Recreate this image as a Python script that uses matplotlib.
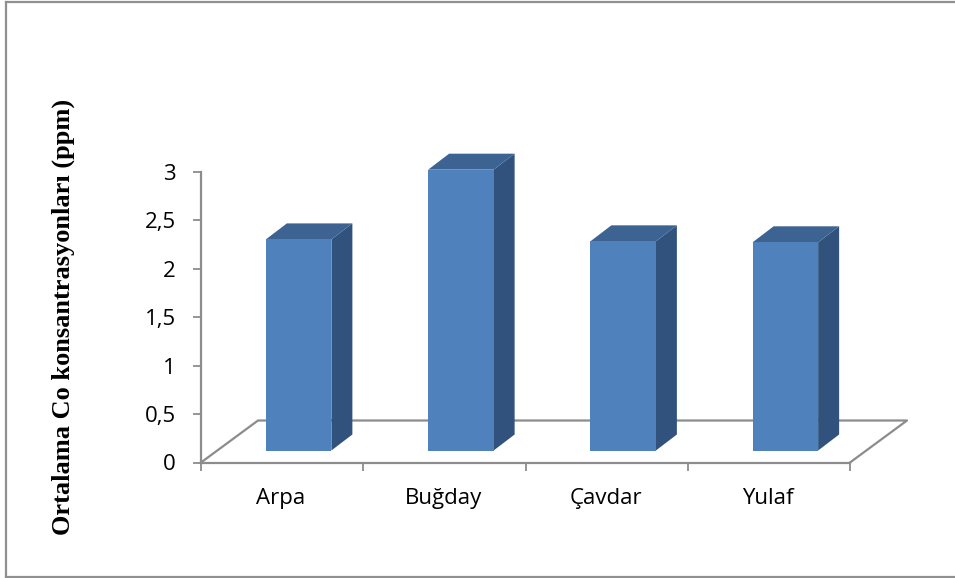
import matplotlib
matplotlib.use("Agg")
import matplotlib.pyplot as plt
from matplotlib.lines import Line2D
from matplotlib.patches import Polygon
from matplotlib.transforms import Affine2D

categories = ["Arpa", "Buğday", "Çavdar", "Yulaf"]
values = [2.18, 2.90, 2.16, 2.15]
y_ticks = [0, 0.5, 1, 1.5, 2, 2.5, 3]
y_labels = ["0", "0,5", "1", "1,5", "2", "2,5", "3"]
y_title = "Ortalama Co konsantrasyonları (ppm)"

W, H = 955, 578
GREY = "#8C8C8C"
FRONT = "#4F81BD"
TOP = "#3C6391"
SIDE = "#30527C"


def px(x, y):
    # pixel position (y from top) to figure fraction
    return x / W, 1 - y / H


fig = plt.figure(figsize=(W / 100, H / 100), dpi=100)

# frame round the picture
frame = [((5.5, 577), (5.5, 1.5)), ((5.5, 1.5), (955, 1.5)), ((5.5, 577), (955, 577))]
for a, b in frame:
    xa, ya = px(*a)
    xb, yb = px(*b)
    fig.add_artist(Line2D([xa, xb], [ya, yb], color="#909090", lw=1.6))

# axes box = the front floor edge and y axis
left, right, top, bottom = 201, 850, 172, 462.5
ax = fig.add_axes([left / W, 1 - bottom / H, (right - left) / W, (bottom - top) / H])
ax.patch.set_visible(False)
ax.set_xlim(0.5, 4.5)
ax.set_ylim(0, 3)
for s in ["top", "right"]:
    ax.spines[s].set_visible(False)
for s in ["left", "bottom"]:
    ax.spines[s].set_color(GREY)
    ax.spines[s].set_linewidth(1.6)

ax.set_yticks(y_ticks)
ax.set_yticklabels(y_labels, fontname="Open Sans", fontsize=16, color="black")
ax.set_xticks([0.5, 1.5, 2.5, 3.5, 4.5])
ax.set_xticklabels([])
ax.tick_params(axis="both", color=GREY, width=1.3, length=6)
ax.tick_params(axis="y", pad=12)

for i, name in enumerate(categories):
    ax.annotate(name, (i + 1, 0), xytext=(-1, -36), textcoords="offset pixels",
                ha="center", va="center", fontname="Open Sans", fontsize=16, color="black")

# floor parallelogram, 57 px deep and 42 px up
sx = (right - left) / 4
sy = (bottom - top) / 3
dx_floor, dy_floor = 57 / sx, 42 / sy
ax.plot([0.5, 0.5 + dx_floor, 4.5 + dx_floor, 4.5], [0, dy_floor, dy_floor, 0],
        color=GREY, lw=1.6, clip_on=False, zorder=1)

# bars sit a little into the floor
shift = ax.transData + Affine2D().translate(16.5, 12)
width = 65.5 / sx
dx, dy = 21 / sx, 16 / sy
xs = [i + 1 for i in range(len(values))]

for x, v in zip(xs, values):
    x0, x1 = x - width / 2, x + width / 2
    side = [(x1, 0), (x1 + dx, dy), (x1 + dx, v + dy), (x1, v)]
    roof = [(x0, v), (x1, v), (x1 + dx, v + dy), (x0 + dx, v + dy)]
    ax.add_patch(Polygon(side, closed=True, fc=SIDE, ec="none", transform=shift, clip_on=False, zorder=3))
    ax.add_patch(Polygon(roof, closed=True, fc=TOP, ec="none", transform=shift, clip_on=False, zorder=3))

ax.bar(xs, values, width, color=FRONT, edgecolor="none", transform=shift, clip_on=False, zorder=4)

fig.text(63 / W, 1 - 317 / H, y_title, rotation=90, ha="center", va="center",
         fontname="Liberation Serif", fontweight="bold", fontsize=19, color="black")

fig.savefig("out.png", dpi=100)
